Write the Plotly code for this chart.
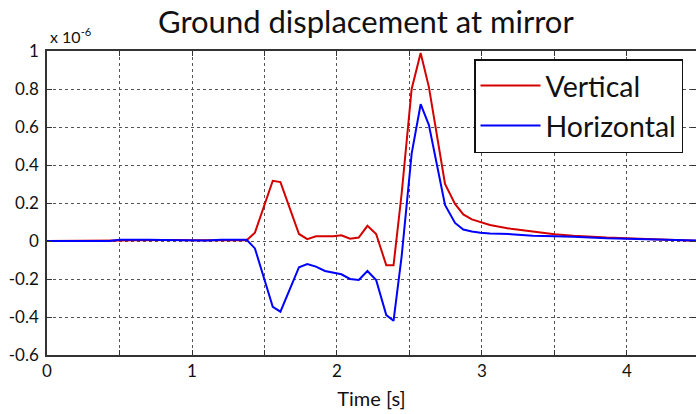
import plotly.graph_objects as go

# Time [s]
time_s = [0, 0.2, 0.43, 0.5, 0.6, 0.7, 0.8, 0.9, 1.0, 1.1, 1.2, 1.3, 1.377,
          1.434, 1.557, 1.61, 1.738, 1.795, 1.855, 1.917, 1.975, 2.03, 2.09,
          2.15, 2.21, 2.27, 2.34, 2.39, 2.446, 2.515, 2.577, 2.634, 2.745,
          2.814, 2.871, 2.93, 2.99, 3.055, 3.2, 3.35, 3.5, 3.63, 3.86, 4.09,
          4.27, 4.5]
# displacement in units of 1e-6
vertical = [0, 0, 0, 0.003, 0.004, 0.005, 0.006, 0.005, 0.004, 0.003, 0.005, 0.004, 0.004,
            0.044, 0.317, 0.31, 0.037, 0.01, 0.025, 0.025, 0.025, 0.03, 0.012,
            0.018, 0.08, 0.037, -0.128, -0.128, 0.25, 0.8, 0.99, 0.81, 0.30,
            0.195, 0.14, 0.114, 0.098, 0.084, 0.064, 0.05, 0.036, 0.028, 0.018, 0.012,
            0.005, 0.0]
horizontal = [0, 0, 0, 0.006, 0.007, 0.006, 0.005, 0.004, 0.006, 0.003, 0.006, 0.005, 0.006,
              -0.039, -0.346, -0.372, -0.138, -0.121, -0.135, -0.158, -0.165, -0.175, -0.2,
              -0.205, -0.158, -0.205, -0.39, -0.42, -0.08, 0.46, 0.72, 0.61, 0.19,
              0.095, 0.06, 0.05, 0.044, 0.04, 0.036, 0.028, 0.025, 0.023, 0.014, 0.009,
              0.006, 0.002]

x_ticks = [0, 1, 2, 3, 4]
x_tick_text = ["0", "1", "2", "3", "4"]
y_ticks = [-0.6, -0.4, -0.2, 0, 0.2, 0.4, 0.6, 0.8, 1]
y_tick_text = ["-0.6", "-0.4", "-0.2", "0", "0.2", "0.4", "0.6", "0.8", "1"]

FONT = "Lato"
GRID = "#555555"

fig = go.Figure()
fig.add_trace(go.Scatter(x=time_s, y=vertical, mode="lines", name="Vertical",
                         line=dict(color="#d40000", width=2)))
fig.add_trace(go.Scatter(x=time_s, y=horizontal, mode="lines", name="Horizontal",
                         line=dict(color="#0000ff", width=2)))

axis_common = dict(showline=True, linecolor="#333333", linewidth=1.5, mirror="ticks",
                   ticks="inside", ticklen=5, tickcolor="#333333", automargin=False,
                   showgrid=True, gridcolor=GRID, gridwidth=1, griddash="dot",
                   zeroline=False, tickfont=dict(family=FONT, size=17, color="#111111"))

fig.update_xaxes(range=[0, 4.476], tickvals=x_ticks, ticktext=x_tick_text,
                 minor=dict(dtick=0.5, tick0=0, showgrid=True, gridcolor=GRID, gridwidth=1,
                            griddash="dot", ticks="inside", ticklen=5, tickcolor="#333333"),
                 title=dict(text="Time [s]", font=dict(family=FONT, size=20, color="#111111"),
                            standoff=12), **axis_common)
fig.update_yaxes(range=[-0.6, 1], tickvals=y_ticks, ticktext=y_tick_text,
                 ticklabelstandoff=3, **axis_common)

fig.update_layout(
    width=696, height=414,
    margin=dict(l=47, r=0, t=51, b=59),
    paper_bgcolor="white", plot_bgcolor="white",
    showlegend=True,
    legend=dict(x=(474 - 47) / 649, y=(355 - 59) / 304, xanchor="left", yanchor="top",
                bgcolor="white", bordercolor="#111111", borderwidth=1.5,
                font=dict(family=FONT, size=28.5, color="#111111"),
                itemwidth=60, tracegroupgap=0),
    annotations=[
        dict(text="Ground displacement at mirror", x=(366 - 47) / 649, y=1 + (51 - 21) / 304,
             xref="paper", yref="paper", xanchor="center", yanchor="middle",
             showarrow=False, font=dict(family=FONT, size=31, color="#111111")),
        dict(text="x 10<sup>-6</sup>", x=0, y=1.0, xref="paper", yref="paper",
             xanchor="left", yanchor="bottom", yshift=3, xshift=1, showarrow=False,
             font=dict(family=FONT, size=16, color="#111111")),
    ],
)

# remove the browser's default 8px body margin so the figure fills the window
fig.write_html("out.html", config={"displayModeBar": False},
               post_script="document.body.style.margin='0';")
